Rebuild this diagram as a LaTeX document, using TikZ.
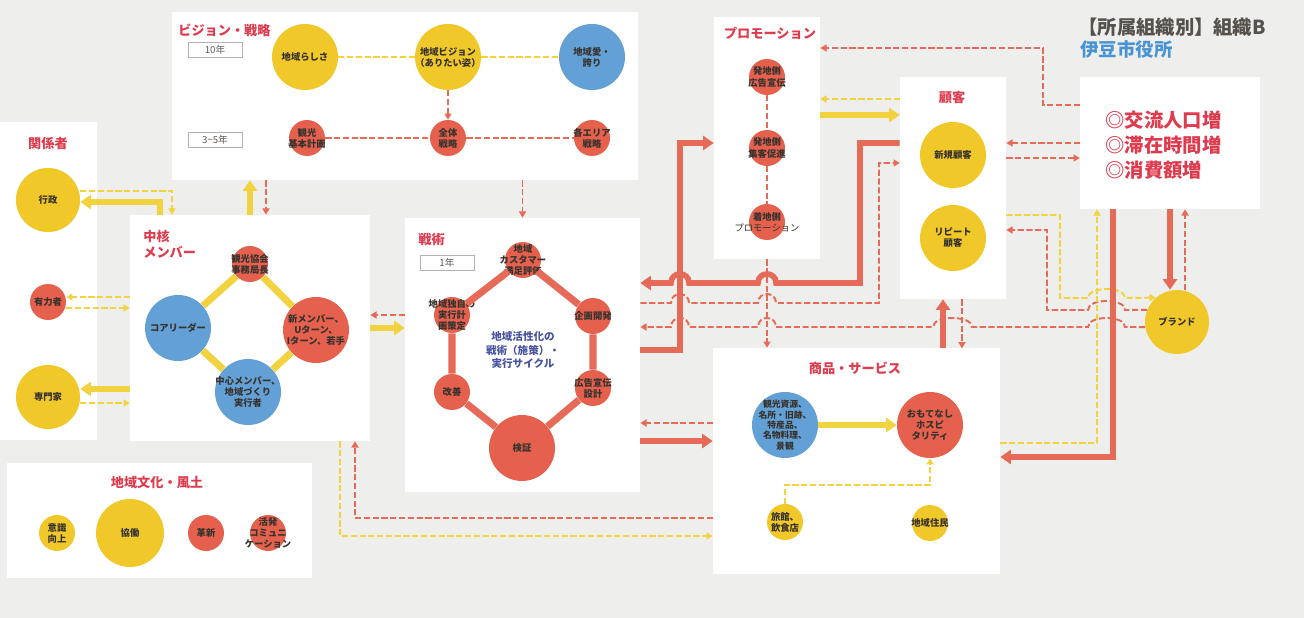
\documentclass[tikz,border=0pt]{standalone}
\usepackage{fontspec}
\setmainfont{Noto Sans CJK JP}
\usetikzlibrary{arrows.meta,calc,fit}
\definecolor{bgG}{RGB}{238,238,237}
\definecolor{cirY}{RGB}{240,200,42}
\definecolor{cirR}{RGB}{229,97,78}
\definecolor{cirB}{RGB}{98,160,214}
\definecolor{lnY}{RGB}{242,210,62}
\definecolor{lnR}{RGB}{229,106,88}
\definecolor{ttlR}{RGB}{222,60,78}
\definecolor{izuB}{RGB}{72,148,210}
\definecolor{cycB}{RGB}{72,84,160}
\definecolor{txtD}{RGB}{55,50,45}
\newcommand{\lhop}[3]{-- (#2,#1) .. controls (#2,#1-12) and (#3,#1-12) .. (#3,#1)}

\begin{document}
\begin{tikzpicture}[x=0.02cm, y=-0.02cm,
  pnl/.style={fill=white, draw=none, inner sep=0pt},
  ttl/.style={text=ttlR, font=\fontsize{7.5}{9}\selectfont\bfseries, align=left, inner sep=0pt},
  ctx/.style={align=center, text=txtD, inner sep=0pt, font=\fontsize{5.3}{6.3}\selectfont\bfseries},
  yc/.style={circle, fill=cirY, inner sep=0pt},
  rc/.style={yc, fill=cirR},
  bc/.style={yc, fill=cirB},
  big/.style={minimum size=1.32cm},
  mid/.style={minimum size=1.28cm},
  sml/.style={minimum size=0.72cm},
  yr/.style={draw=gray!60, fill=white, line width=0.4pt, minimum width=1.08cm,
             minimum height=0.3cm, inner sep=0pt, text=txtD!80, font=\fontsize{5.5}{6}\selectfont},
  tkY/.style={draw=lnY, line width=3.2pt, -{Triangle[length=6pt,width=8pt]}},
  tkR/.style={tkY, draw=lnR},
  dsY/.style={draw=lnY, line width=1.1pt, dash pattern=on 3.5pt off 1.5pt,
              -{Triangle[length=3.5pt,width=4pt]}},
  dsR/.style={dsY, draw=lnR},
  lkY/.style={draw=lnY, line width=1.1pt, dash pattern=on 3.5pt off 1.5pt},
  lkR/.style={lkY, draw=lnR},
  cnY/.style={draw=lnY, line width=4pt},
  cnR/.style={cnY, draw=lnR}]
  \fill[bgG] (0,0) rectangle (1304,618);
  % panels
  \node[pnl, fit={(172,12) (638,180)}] (pVis) {};
  \node[pnl, fit={(0,122) (97,440)}] (pRel) {};
  \node[pnl, fit={(130,215) (370,441)}] (pCore) {};
  \node[pnl, fit={(405,218) (640,492)}] (pTac) {};
  \node[pnl, fit={(714,17) (820,259)}] (pPro) {};
  \node[pnl, fit={(900,77) (1006,299)}] (pCus) {};
  \node[pnl, fit={(1080,77) (1260,209)}] (pGoal) {};
  \node[pnl, fit={(713,348) (1000,574)}] (pPrd) {};
  \node[pnl, fit={(7,463) (312,578)}] (pCul) {};
  % titles
  \node[ttl, anchor=west] (tVis) at (178,30) {ビジョン・戦略};
  \node[ttl] (tRel) at (48,143) {関係者};
  \node[ttl, anchor=north west] (tCore) at (143,230) {中核\\メンバー};
  \node[ttl, anchor=west] (tTac) at (418,240) {戦術};
  \node[ttl] (tPro) at (770,33) {プロモーション};
  \node[ttl] (tCus) at (952,98) {顧客};
  \node[ttl] (tPrd) at (855,368) {商品・サービス};
  \node[ttl] (tCul) at (157,483) {地域文化・風土};
  \node[anchor=west, inner sep=0pt, text=txtD!85, font=\fontsize{11}{13}\selectfont\bfseries] (hOrg) at (1078,27) {【所属組織別】組織B};
  \node[anchor=west, inner sep=0pt, text=izuB, font=\fontsize{10.5}{13}\selectfont\bfseries] (hIzu) at (1080,50) {伊豆市役所};
  \node[anchor=west, inner sep=0pt, text=ttlR, font=\fontsize{11}{13}\selectfont\bfseries] (g1) at (1105,120) {◎交流人口増};
  \node[anchor=west, inner sep=0pt, text=ttlR, font=\fontsize{11}{13}\selectfont\bfseries] (g2) at (1105,145) {◎滞在時間増};
  \node[anchor=west, inner sep=0pt, text=ttlR, font=\fontsize{11}{13}\selectfont\bfseries] (g3) at (1105,170) {◎消費額増};
  % vision
  \node[yr] (y10) at (215,50) {10年};
  \node[yr] (y35) at (215,140) {3\textasciitilde 5年};
  \node[yc, big, label={[ctx]center:地域らしさ}] (vSelf) at (305,57) {};
  \node[yc, big, label={[ctx]center:地域ビジョン\\（ありたい姿）}] (vVis) at (448,57) {};
  \node[bc, big, label={[ctx]center:地域愛・\\誇り}] (vPride) at (592,57) {};
  \node[rc, sml, label={[ctx]center:観光\\基本計画}] (vPlan) at (307,138) {};
  \node[rc, sml, label={[ctx]center:全体\\戦略}] (vAll) at (448,138) {};
  \node[rc, sml, label={[ctx]center:各エリア\\戦略}] (vArea) at (592,138) {};
  % relations
  \node[yc, mid, label={[ctx]center:行政}] (gyo) at (48,200) {};
  \node[rc, sml, label={[ctx]center:有力者}] (yu) at (48,302) {};
  \node[yc, mid, label={[ctx]center:専門家}] (sen) at (48,397) {};
  % core members
  \node[rc, sml, label={[ctx]center:観光協会\\事務局長}] (cKyo) at (250,264) {};
  \node[bc, big, label={[ctx]center:コアリーダー}] (cLead) at (178,328) {};
  \node[rc, big, label={[ctx]center:新メンバー、\\Uターン、\\Iターン、若手}] (cShin) at (316,330) {};
  \node[bc, big, label={[ctx]center:中心メンバー、\\地域づくり\\実行者}] (cChu) at (248,392) {};
  % tactics
  \node[yr] (y1) at (447,263) {1年};
  \node[rc, sml, label={[ctx]center:地域\\カスタマー\\満足評価}] (tCusS) at (523,260) {};
  \node[rc, sml, label={[ctx]center:企画開発}] (tPlan) at (593,316) {};
  \node[rc, sml, label={[ctx]center:広告宣伝\\設計}] (tAd) at (593,388) {};
  \node[rc, big, label={[ctx]center:検証}] (tChk) at (522,448) {};
  \node[rc, sml, label={[ctx]center:改善}] (tImp) at (452,392) {};
  \node[rc, sml, label={[ctx]center:地域独自の\\実行計\\画策定}] (tExe) at (452,315) {};
  \node[text=cycB, align=center, font=\fontsize{6}{7.5}\selectfont\bfseries] (tMid) at (523,350) {地域活性化の\\戦術（施策）・\\実行サイクル};
  % promotion
  \node[rc, sml, label={[ctx]center:発地側\\広告宣伝}] (pSend) at (767,77) {};
  \node[rc, sml, label={[ctx]center:発地側\\集客促進}] (pDraw) at (767,148) {};
  \node[rc, sml, label={[ctx]center:着地側\\{\mdseries プロモーション}}] (pLand) at (767,222) {};
  % customers, brand
  \node[yc, big, label={[ctx]center:新規顧客}] (cNew) at (953,155) {};
  \node[yc, big, label={[ctx]center:リピート\\顧客}] (cRep) at (953,238) {};
  \node[yc, mid, label={[ctx]center:ブランド}] (brand) at (1177,322) {};
  % products
  \node[bc, big, label={[ctx, font=\fontsize{5}{5.9}\selectfont\bfseries]center:観光資源、\\名所・旧跡、\\特産品、\\名物料理、\\景観}] (kan) at (785,425) {};
  \node[rc, big, label={[ctx]center:おもてなし\\ホスピ\\タリティ}] (omo) at (930,425) {};
  \node[yc, sml, label={[ctx]center:旅館、\\飲食店}] (ryo) at (785,522) {};
  \node[yc, sml, label={[ctx]center:地域住民}] (jum) at (930,523) {};
  % culture
  \node[yc, sml, label={[ctx]center:意識\\向上}] (kIsh) at (57,533) {};
  \node[yc, minimum size=1.36cm, label={[ctx]center:協働}] (kKyo) at (130,533) {};
  \node[rc, sml, label={[ctx]center:革新}] (kKak) at (206,533) {};
  \node[rc, sml, label={[ctx]center:活発\\コミュニ\\ケーション}] (kCom) at (268,533) {};

  % vision links
  \draw[lkY] (vSelf) -- (vVis) -- (vPride);
  \draw[lkR] (vPlan) -- (vAll) -- (vArea);
  \draw[dsR] (vVis) -- (vAll);
  \draw[tkY] (pCore.north) -- (pCore.north |- pVis.south);
  \draw[dsR] ($(pCore.north |- pVis.south)+(16,0)$) -- ($(pCore.north)+(16,0)$);
  \draw[dsR] (pTac.north |- pVis.south) -- (pTac.north);
  % relations
  \draw[dsY] ($(gyo.east)+(0,-9)$) -| ($(pCore.north)+(-78,0)$);
  \draw[tkY] ($(pCore.north)+(-90,0)$) |- ($(gyo.east)+(0,2)$);
  \draw[dsY] ($(pCore.west)+(0,-31)$) -- ($(yu.east)+(0,-5)$);
  \draw[dsY] ($(yu.east)+(0,6)$) -- ($(pCore.west)+(0,-20)$);
  \draw[tkY] ($(pCore.west)+(0,61)$) -- ($(sen.east)+(0,-8)$);
  \draw[dsY] ($(sen.east)+(0,6)$) -- ($(pCore.west)+(0,75)$);
  % core
  \draw[cnY] (cKyo) -- (cShin) -- (cChu) -- (cLead) -- (cKyo);
  \draw[dsR] ($(pTac.west)+(0,-40)$) -- ($(pCore.east)+(0,-13)$);
  \draw[tkY] (pCore.east) -- ($(pTac.west)+(0,-27)$);
  % tactics cycle
  \draw[cnR] (tCusS) -- (tPlan) -- (tAd) -- (tChk) -- (tImp) -- (tExe) -- (tCusS);
  % promotion
  \draw[lkR] (pSend) -- (pDraw) -- (pLand);
  \draw[dsR] (pPro.south) -- (pPro.south |- pPrd.north);
  \draw[tkR] ($(pTac.east)+(0,-5)$) -- (680,350) |- ($(pPro.west)+(0,5)$);
  \draw[tkR] ($(pCus.west)+(0,-45)$) -| (860,283) \lhop{283}{776}{758} \lhop{283}{689}{671} -- ($(pTac.east)+(0,-72)$);
  \draw[dsR] ($(pTac.east)+(0,-52)$) \lhop{303}{671}{689} \lhop{303}{758}{776} -- (879,303) |- ($(pCus.west)+(0,-25)$);
  \draw[dsR] (brand.189) \lhop{327}{1125}{1088} \lhop{327}{972}{933} \lhop{327}{776}{758} \lhop{327}{689}{671} -- ($(pTac.east)+(0,-28)$);
  % tactics, products
  \draw[dsR] ($(pPrd.west)+(0,-38)$) -- ($(pTac.east)+(0,68)$);
  \draw[tkR] ($(pTac.east)+(0,86)$) -- ($(pPrd.west)+(0,-20)$);
  \draw[dsR] ($(pPrd.west)+(0,57)$) -| ($(pCore.south)+(105,0)$);
  \draw[dsY] ($(pCore.south)+(90,0)$) |- ($(pPrd.west)+(0,75)$);
  % promotion, customers, goal
  \draw[dsR] ($(pGoal.west)+(0,-38)$) -- (1043,105) |- ($(pPro.east)+(0,-90)$);
  \draw[dsY] ($(pCus.west)+(0,-89)$) -- ($(pPro.east)+(0,-39)$);
  \draw[tkY] ($(pPro.east)+(0,-23)$) -- ($(pCus.west)+(0,-73)$);
  \draw[dsR] (pGoal.west) -- ($(pCus.east)+(0,-45)$);
  \draw[dsR] ($(pCus.east)+(0,-30)$) -- ($(pGoal.west)+(0,15)$);
  % brand
  \draw[dsY] ($(pCus.east)+(0,27)$) -| (1060,298) \lhop{298}{1088}{1125} -- (brand.131);
  \draw[dsR] (brand.158) \lhop{310}{1125}{1088} -- (1047,310) |- ($(pCus.east)+(0,42)$);
  \draw[tkR] (pGoal.south) -- (pGoal.south |- brand.north);
  \draw[dsR] ($(brand.north)+(8,0)$) -- ($(pGoal.south)+(15,0)$);
  \draw[tkR] ($(pGoal.south)+(-57,0)$) |- ($(pPrd.east)+(0,-4)$);
  \draw[dsY] ($(pPrd.east)+(0,-18)$) -| ($(pGoal.south)+(-73,0)$);
  % customers, products
  \draw[tkR] ($(pCus.south)+(-10,49)$) -- ($(pCus.south)+(-10,0)$);
  \draw[dsR] ($(pCus.south)+(9,0)$) -- ($(pCus.south)+(9,49)$);
  \draw[tkY] (kan) -- (omo);
  \draw[dsY] (ryo.north) -- ++(0,-19) -| (omo.south);
\end{tikzpicture}
\end{document}
